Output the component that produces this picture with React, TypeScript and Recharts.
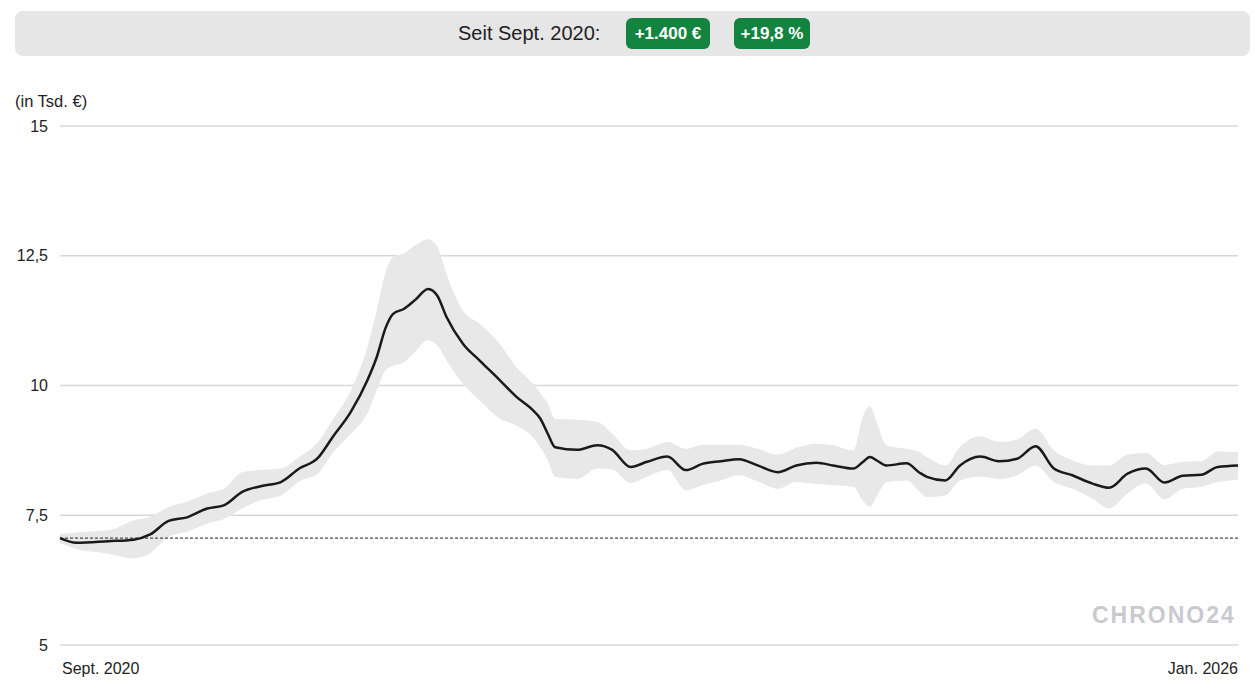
import {
  Area,
  CartesianGrid,
  ComposedChart,
  Line,
  ReferenceLine,
  XAxis,
  YAxis,
} from "recharts";

// months since Sept. 2020
const months = [
  0, 0.9, 2.6, 4.0, 4.9, 5.9, 6.9, 8.0, 8.9, 9.9, 10.9, 12.0, 13.0, 14.0,
  14.8, 15.8, 16.7, 17.2, 17.7, 18.1, 18.7, 19.3, 20.0, 20.5, 21.0, 21.9,
  22.8, 23.9, 24.8, 25.7, 26.1, 26.5, 26.9, 28.1, 29.2, 30.0, 31.0, 31.9,
  33.0, 34.0, 34.9, 35.9, 36.9, 37.9, 39.0, 40.0, 41.1, 42.0, 43.1, 43.6,
  44.0, 44.4, 44.9, 46.0, 46.7, 47.1, 48.1, 48.9, 50.0, 51.0, 52.0, 53.0,
  54.0, 55.0, 56.1, 57.0, 58.0, 59.0, 60.0, 61.0, 62.0, 62.9, 64.0,
];

// average price (Tsd. €)
const price = [
  7.06, 6.97, 7.0, 7.03, 7.13, 7.39, 7.46, 7.63, 7.69, 7.95, 8.06, 8.14,
  8.4, 8.6, 9.0, 9.49, 10.1, 10.54, 11.12, 11.38, 11.48, 11.65, 11.86,
  11.73, 11.32, 10.8, 10.48, 10.1, 9.78, 9.52, 9.36, 9.07, 8.81, 8.76,
  8.85, 8.76, 8.43, 8.53, 8.63, 8.37, 8.49, 8.54, 8.58, 8.46, 8.33, 8.46,
  8.51, 8.46, 8.4, 8.52, 8.62, 8.55, 8.46, 8.5, 8.32, 8.24, 8.17, 8.46,
  8.63, 8.54, 8.59, 8.83, 8.4, 8.27, 8.11, 8.03, 8.3, 8.4, 8.13, 8.26,
  8.28, 8.43, 8.46,
];

const high = [
  7.14, 7.17, 7.21, 7.4, 7.47, 7.66, 7.76, 7.92, 8.01, 8.33, 8.37, 8.4,
  8.62, 8.9, 9.33, 9.9, 10.74, 11.44, 12.2, 12.47, 12.55, 12.7, 12.82,
  12.68, 12.15, 11.44, 11.19, 10.8, 10.35, 10.03, 9.85, 9.65, 9.36, 9.34,
  9.3, 9.07, 8.75, 8.78, 8.91, 8.78, 8.86, 8.86, 8.86, 8.78, 8.67, 8.8,
  8.88, 8.85, 8.75, 9.39, 9.6, 9.26, 8.85, 8.78, 8.72, 8.62, 8.46, 8.82,
  9.02, 8.91, 8.96, 9.17, 8.75, 8.56, 8.46, 8.46, 8.67, 8.7, 8.47, 8.53,
  8.54, 8.73, 8.72,
];

const low = [
  6.96, 6.85, 6.76, 6.67, 6.77, 7.08, 7.18, 7.34, 7.43, 7.63, 7.79, 7.88,
  8.15, 8.3, 8.69, 9.07, 9.46, 9.9, 10.3, 10.38, 10.45, 10.65, 10.87,
  10.77, 10.48, 10.03, 9.71, 9.36, 9.23, 9.0, 8.8, 8.56, 8.24, 8.2, 8.4,
  8.38, 8.12, 8.24, 8.37, 7.98, 8.08, 8.17, 8.27, 8.15, 8.01, 8.14, 8.1,
  8.08, 8.05, 7.79, 7.66, 7.88, 8.14, 8.17, 7.95, 7.85, 7.88, 8.17, 8.24,
  8.2, 8.27, 8.46, 8.14, 8.01, 7.82, 7.63, 7.92, 8.11, 7.81, 8.01, 8.05,
  8.14, 8.18,
];

const yTicks = [5, 7.5, 10, 12.5, 15];
const xTicks = [0, 64];
const xTickLabels = ["Sept. 2020", "Jan. 2026"];
const startValue = 7.06;

const data = months.map((t, i) => ({
  t,
  price: price[i],
  band: [low[i], high[i]],
}));

const axisFont = "'Liberation Sans', Arial, sans-serif";

function XTick({ x, y, payload }: any) {
  const first = payload.value === xTicks[0];
  return (
    <text
      x={x + (first ? 2 : 0)}
      y={y}
      dy="0.71em"
      textAnchor={first ? "start" : "end"}
      fill="#222"
      fontSize={16}
      fontFamily={axisFont}
    >
      {first ? xTickLabels[0] : xTickLabels[1]}
    </text>
  );
}

function Badge({ left, width, text }: { left: number; width: number; text: string }) {
  return (
    <div
      style={{
        position: "absolute",
        left,
        top: 18,
        width,
        height: 31,
        borderRadius: 6,
        background: "#138440",
        color: "#fff",
        fontWeight: 700,
        fontSize: 17,
        lineHeight: "31px",
        textAlign: "center",
        fontFamily: axisFont,
      }}
    >
      {text}
    </div>
  );
}

export default function App() {
  return (
    <div
      style={{
        position: "absolute",
        left: 0,
        top: 0,
        width: 1255,
        height: 688,
        background: "#fff",
        fontFamily: axisFont,
      }}
    >
      <div
        style={{
          position: "absolute",
          left: 15,
          top: 11,
          width: 1235,
          height: 45,
          borderRadius: 8,
          background: "#e6e6e6",
        }}
      />
      <div
        style={{
          position: "absolute",
          left: 458,
          top: 20,
          fontSize: 20,
          lineHeight: "26px",
          color: "#222",
        }}
      >
        Seit Sept. 2020:
      </div>
      <Badge left={626} width={84} text="+1.400 €" />
      <Badge left={734} width={76} text="+19,8 %" />

      <div
        style={{
          position: "absolute",
          left: 15,
          top: 92,
          fontSize: 16.5,
          color: "#222",
        }}
      >
        (in Tsd. €)
      </div>

      <div style={{ position: "absolute", left: 0, top: 0 }}>
        <ComposedChart
          width={1255}
          height={688}
          data={data}
          margin={{ top: 126, right: 17, bottom: 13, left: 0 }}
        >
          <CartesianGrid vertical={false} stroke="#d8d8d8" strokeWidth={1.5} />
          <XAxis
            dataKey="t"
            type="number"
            domain={[0, 64]}
            ticks={xTicks}
            axisLine={false}
            tickLine={false}
            tickMargin={12}
            height={30}
            tick={<XTick />}
          />
          <YAxis
            type="number"
            domain={[5, 15]}
            ticks={yTicks}
            width={60}
            axisLine={false}
            tickLine={false}
            tickMargin={6}
            tick={{ fill: "#222", fontSize: 16, fontFamily: axisFont }}
            tickFormatter={(v) => String(v).replace(".", ",")}
          />
          <Area
            dataKey="band"
            type="monotone"
            fill="#e8e8e8"
            fillOpacity={1}
            stroke="none"
            isAnimationActive={false}
          />
          <ReferenceLine
            y={startValue}
            stroke="#222"
            strokeWidth={1}
            strokeDasharray="3 2"
          />
          <Line
            dataKey="price"
            type="monotone"
            stroke="#1a1a1a"
            strokeWidth={2.5}
            dot={false}
            activeDot={false}
            isAnimationActive={false}
          />
        </ComposedChart>
      </div>

      <div
        style={{
          position: "absolute",
          left: 1092,
          top: 602,
          fontSize: 23,
          fontWeight: 700,
          letterSpacing: 2,
          color: "#c9cacf",
          fontFamily: "'Liberation Sans', Arial, sans-serif",
        }}
      >
        CHRONO24
      </div>
    </div>
  );
}
